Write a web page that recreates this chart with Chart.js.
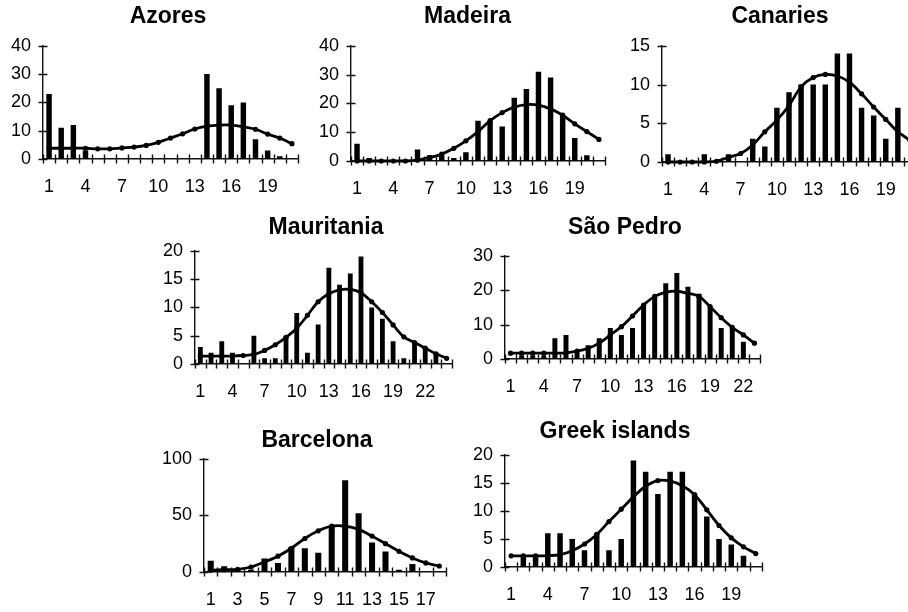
<!DOCTYPE html>
<html><head><meta charset="utf-8">
<script src="https://cdn.jsdelivr.net/npm/chart.js@4/dist/chart.umd.min.js"></script>
<style>
html,body{margin:0;padding:0;width:908px;height:612px;overflow:hidden;background:#fff;}
canvas{position:absolute;}
</style></head><body>
<script>
// ---- data ----
const azoresDays = [1,2,3,4,5,6,7,8,9,10,11,12,13,14,15,16,17,18,19,20,21];
const azoresBars = [23,11,12,3,0,0,0,0,0,0,0,0,0,30,25,19,20,7,3,1,0];
const azoresFit  = [3.8,3.8,3.8,3.8,3.6,3.6,3.9,4.2,4.8,5.9,7.4,8.9,10.6,11.6,12,12,11.4,10.5,8.8,7.4,5.4];

const madeiraDays = [1,2,3,4,5,6,7,8,9,10,11,12,13,14,15,16,17,18,19,20,21];
const madeiraBars = [6,1,0,0,0,4,2,2,1,3,14,14,12,22,25,31,29,16,8,2,0];
const madeiraFit  = [0,0,0,0,0,0.3,1.2,2.4,4.4,7,10.2,14,16.8,18.7,19.6,19.4,18.1,15.9,12.9,10.2,7.5];

const canariesDays = [1,2,3,4,5,6,7,8,9,10,11,12,13,14,15,16,17,18,19,20,21];
const canariesBars = [1,0,0,1,0,1,0,3,2,7,9,10,10,10,14,14,7,6,3,7,0];
const canariesFit  = [0,0,0,0,0.1,0.6,1.1,2.2,3.9,5.4,7.3,9.7,10.9,11.3,11.1,10.3,8.8,7.1,5.5,3.9,2.8];

const mauritaniaDays = [1,2,3,4,5,6,7,8,9,10,11,12,13,14,15,16,17,18,19,20,21,22,23,24];
const mauritaniaBars = [3,2,4,2,0,5,1,1,5,9,2,7,17,14,16,19,10,8,4,1,4,3,2,0];
const mauritaniaFit  = [1.4,1.4,1.4,1.4,1.5,1.7,2.4,3.4,4.7,6.3,8.6,11,12.4,13.1,13.2,12.6,11,9.1,6.9,4.8,3.8,2.8,1.8,1];

const saoPedroDays = [1,2,3,4,5,6,7,8,9,10,11,12,13,14,15,16,17,18,19,20,21,22,23];
const saoPedroBars = [0,1,1,1,6,7,2,4,6,9,7,9,16,18,22,25,21,19,15,9,9,5,0];
const saoPedroFit  = [1.7,1.7,1.7,1.7,1.7,1.8,2.3,3.1,4.6,7,9.4,12.5,15.7,18.2,19.4,19.7,19.1,18.2,15.2,12,9.2,7,4.6];

const barcelonaDays = [1,2,3,4,5,6,7,8,9,10,11,12,13,14,15,16,17,18];
const barcelonaBars = [10,5,3,2,12,8,22,21,17,41,81,52,26,18,2,7,0,0];
const barcelonaFit  = [1.5,2,2.4,4.4,8.9,14,21,29.6,36.4,40.5,40.5,37.6,31.7,25,18.3,12.4,8,5.3];

const greekDays = [1,2,3,4,5,6,7,8,9,10,11,12,13,14,15,16,17,18,19,20,21];
const greekBars = [0,2,2,6,6,5,3,6,3,5,19,17,13,17,17,13,9,5,4,2,0];
const greekFit  = [2,2,2,2,2.2,2.9,4.1,5.8,8.1,10.3,12.5,14.4,15.4,15.3,14.5,12.9,10.2,7.4,5.2,3.6,2.4];

// ---- layout ----
const panels = [
  {title:'Azores', cats:azoresDays, bars:azoresBars, fit:azoresFit, max:40, step:10, every:3, A:42.5, R:297.5, T:46, B:159, C:167.5, Ty:17},
  {title:'Madeira', cats:madeiraDays, bars:madeiraBars, fit:madeiraFit, max:40, step:10, every:3, A:351, R:605, T:46, B:161, C:467.5, Ty:17},
  {title:'Canaries', cats:canariesDays, bars:canariesBars, fit:canariesFit, max:15, step:5, every:3, A:662, R:916, T:46, B:162, C:780, Ty:17},
  {title:'Mauritania', cats:mauritaniaDays, bars:mauritaniaBars, fit:mauritaniaFit, max:20, step:5, every:3, A:195, R:452, T:251, B:364, C:326, Ty:228},
  {title:'São Pedro', cats:saoPedroDays, bars:saoPedroBars, fit:saoPedroFit, max:30, step:10, every:3, A:505, R:760, T:256, B:359, C:625, Ty:228},
  {title:'Barcelona', cats:barcelonaDays, bars:barcelonaBars, fit:barcelonaFit, max:100, step:50, every:2, A:204, R:446, T:459, B:572, C:317, Ty:441},
  {title:'Greek islands', cats:greekDays, bars:greekBars, fit:greekFit, max:20, step:5, every:3, A:505, R:762, T:455, B:567, C:615, Ty:432}
];

const TITLE_SIZE = 23, LH = TITLE_SIZE*1.2, XH = 44, YW = 48, TICK = 4.5, TICK_FONT = 18;
const FONT = "'Liberation Sans', Arial, Helvetica, sans-serif";

const crossTicks = {
  id:'crossTicks',
  afterDraw(chart){
    const ctx = chart.ctx, xs = chart.scales.x, ys = chart.scales.y;
    ctx.save();
    ctx.strokeStyle = '#111'; ctx.lineWidth = 1.4;
    ctx.beginPath();
    ys.ticks.forEach(t => {
      const y = Math.round(ys.getPixelForValue(t.value)) + 0.5;
      ctx.moveTo(xs.left - TICK, y); ctx.lineTo(xs.left + TICK, y);
    });
    const n = xs.getLabels().length, w = xs.width / n;
    for (let k = 0; k <= n; k++) {
      const x = Math.round(xs.left + k*w) + 0.5;
      ctx.moveTo(x, ys.bottom - TICK); ctx.lineTo(x, ys.bottom + TICK);
    }
    ctx.stroke();
    ctx.restore();
  }
};

panels.forEach(p => {
  const cc = (p.A + p.R)/2;
  const rw = Math.max(0, 2*(p.C - cc) + YW);   // invisible right spacer so the title centre matches
  const CL = p.A - YW;
  const W = p.R + rw - CL;
  const CT = p.Ty - LH/2;
  const H = p.B + XH - CT;
  const tb = p.T - p.Ty - LH/2;
  const cv = document.createElement('canvas');
  cv.width = Math.round(W); cv.height = Math.round(H);
  cv.style.left = CL + 'px'; cv.style.top = CT + 'px';
  cv.style.width = Math.round(W) + 'px'; cv.style.height = Math.round(H) + 'px';
  document.body.appendChild(cv);
  new Chart(cv, {
    data: {
      labels: p.cats.map(String),
      datasets: [
        {type:'line', data:p.fit, borderColor:'#000', backgroundColor:'#000', borderWidth:2.8,
         pointRadius:2.6, pointHoverRadius:2.6, pointBackgroundColor:'#000', pointBorderWidth:0,
         tension:0.35, clip:false, yAxisID:'y'},
        {type:'bar', data:p.bars, backgroundColor:'#000', borderWidth:0,
         barPercentage:0.45, categoryPercentage:1, yAxisID:'y'}
      ]
    },
    options: {
      responsive:false, animation:false, devicePixelRatio:1,
      layout:{padding:0},
      plugins:{
        legend:{display:false}, tooltip:{enabled:false},
        title:{display:true, text:p.title, color:'#000',
          font:{family:FONT, size:TITLE_SIZE, weight:'bold', lineHeight:1.2},
          padding:{top:0, bottom:tb}}
      },
      scales:{
        x:{type:'category', offset:true,
           grid:{display:false, drawTicks:false, offset:true},
           border:{display:true, color:'#111', width:1.4},
           ticks:{autoSkip:false, maxRotation:0, minRotation:0, padding:17, color:'#000',
             font:{family:FONT, size:TICK_FONT},
             callback:function(v, i){ return i % p.every === 0 ? this.getLabelForValue(v) : ''; }},
           afterFit(s){ s.height = XH; }
        },
        y:{position:'left', min:0, max:p.max,
           grid:{display:false, drawTicks:false},
           border:{display:true, color:'#111', width:1.4},
           ticks:{stepSize:p.step, padding:12, color:'#000', font:{family:FONT, size:TICK_FONT}},
           afterFit(s){ s.width = YW; }
        },
        spacer:{type:'linear', position:'right', display:true,
           grid:{display:false, drawTicks:false},
           border:{display:false},
           ticks:{display:false},
           afterFit(s){ s.width = rw; }
        }
      }
    },
    plugins:[crossTicks]
  });
});
</script>
</body></html>
